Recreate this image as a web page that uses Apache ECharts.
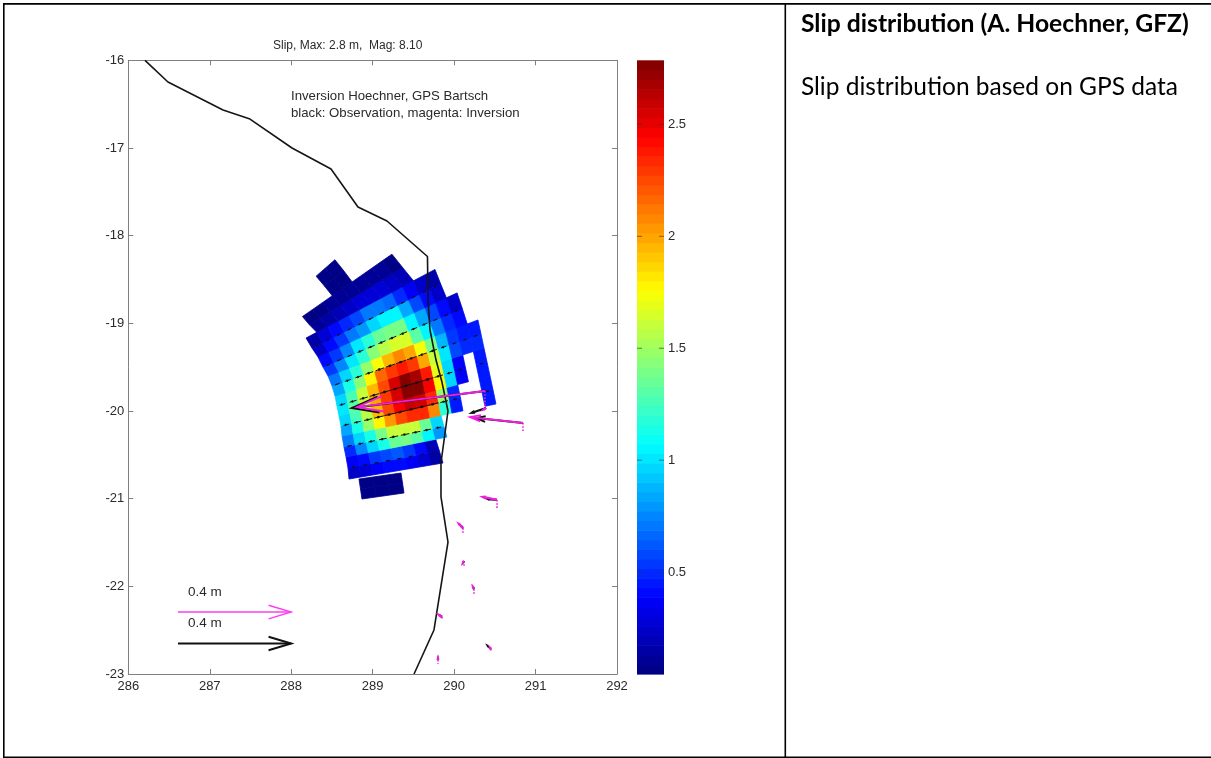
<!DOCTYPE html>
<html><head><meta charset="utf-8">
<style>html,body{margin:0;padding:0;background:#fff}#c{width:1211px;height:758px}</style>
<script src="https://cdn.jsdelivr.net/npm/echarts@6/dist/echarts.min.js"></script>
</head><body><div id="c"></div>
<script>
// Fault mesh: row boundary lines in lon/lat, left end (column 0) and right end (column 14)
const meshLon0 = [288.869,288.851,288.832,288.710,288.697,288.673,288.648,288.624,288.611,288.587,288.562,288.538,288.501,288.452,288.390,288.329,288.255,288.182,288.096,288.016,287.930,287.845];
const meshLat0 = [-21.004,-20.890,-20.776,-20.776,-20.650,-20.525,-20.411,-20.285,-20.171,-20.057,-19.943,-19.829,-19.715,-19.601,-19.498,-19.384,-19.282,-19.168,-19.088,-19.002,-18.917,-18.837];
const meshLon1 = [291.276,291.257,291.239,290.729,290.662,290.600,290.557,290.514,290.478,290.441,290.404,290.367,290.330,290.293,290.232,290.168,290.097,290.029,289.876,289.725,289.594,289.459];
const meshLat1 = [-20.685,-20.571,-20.456,-20.456,-20.314,-20.171,-20.046,-19.920,-19.761,-19.601,-19.441,-19.282,-19.122,-18.962,-18.780,-18.597,-18.426,-18.255,-18.073,-17.895,-17.708,-17.525];
// Slip rows: lower boundary line, first column, slip of each patch (m); null = no patch
const rowLine  = [0,1,3,4,5,6,7,8,9,10,11,12,13,14,15,16,17,18,19,20];
const rowStart = [0,0,0,0,0,0,0,0,0,0,0,0,0,0,0,0,1,1,4,4];
const rowSlip = [
 [.07,.07,.07],
 [.07,.07,.07],
 [.22,.3,.38,.42,.42,.38,.3,.16],
 [.35,.42,.55,.6,.62,.52,.4,.2],
 [.5,.75,.95,1.15,1.35,1.4,1.3,1.05,.8],
 [.7,.95,1.15,1.4,1.6,1.6,1.6,1.35,.95],
 [.85,1.15,1.5,1.8,2.05,2.25,2.35,2.35,2.1,1.2,.45,null,null,.45],
 [.95,1.25,1.55,1.95,2.25,2.45,2.6,2.55,2.35,1.5,.5,null,null,.45],
 [1.0,1.3,1.6,2.0,2.3,2.55,2.75,2.75,2.45,1.8,.95,.35,null,.45],
 [.95,1.25,1.6,1.95,2.25,2.55,2.78,2.7,2.4,1.7,.95,.35,null,.45],
 [.85,1.15,1.45,1.8,2.15,2.3,2.4,2.3,2.0,1.6,1.0,.6,.5,.5],
 [.7,.95,1.2,1.5,1.75,1.95,2.1,2.0,1.75,1.4,.9,.55,.45,.45],
 [.55,.75,1.0,1.2,1.45,1.55,1.65,1.65,1.3,1.05,.7,.5,.4],
 [.4,.55,.75,1.0,1.2,1.35,1.4,1.4,1.05,.85,.6,.4,.25],
 [.25,.4,.55,.7,.8,.95,1.05,1.05,.85,.6,.4,.25],
 [.15,.3,.4,.5,.6,.7,.7,.65,.5,.35,.25,.15],
 [.1,.15,.2,.25,.3,.3,.3,.25,.2],
 [.06,.08,.1,.12,.12,.12,.12,.1,.08],
 [.06,.06],
 [.06,.06]
];
// Slip vector lines drawn along these rows
const vectorRows = [3,5,7,9,11,13,15];
// Coastline
const coastLon = [286.205,286.487,287.163,287.494,288.010,288.489,288.820,289.176,289.673,289.680,289.704,289.778,289.851,289.925,289.839,289.839,289.925,289.753,289.508];
const coastLat = [-16,-16.248,-16.567,-16.670,-17.000,-17.240,-17.673,-17.833,-18.238,-18.734,-19.076,-19.419,-19.670,-20.000,-20.593,-20.981,-21.495,-22.498,-23.0];
// GPS stations: tail, observed tip, inverted tip, error bar end
const gpsLon    = [290.379,290.392,290.846,290.527,290.109,290.122,290.244,289.851,290.452,289.802];
const gpsLat    = [-19.772,-19.966,-20.137,-21.015,-21.335,-21.711,-22.031,-22.350,-22.715,-22.840];
const obsLon    = [288.746,290.220,290.269,290.416,290.085,290.116,290.238,289.830,290.415,289.802];
const obsLat    = [-19.966,-20.020,-20.080,-21.004,-21.312,-21.720,-22.018,-22.335,-22.681,-22.828];
const invLon    = [288.808,290.360,290.195,290.355,290.060,290.110,290.232,289.814,290.442,289.802];
const invLat    = [-19.955,-19.985,-20.069,-20.981,-21.289,-21.730,-22.008,-22.327,-22.702,-22.820];
const errLat    = [-19.966,-19.975,-20.240,-21.107,-21.392,-21.780,-22.088,-22.384,-22.738,-22.885];
// Scale arrows
const scaleLon = [286.61,288.0];
const scaleLatMagenta = -22.293;
const scaleLatBlack = -22.652;
// Colour bar
const slipMin = 0.045, slipMax = 2.786, levelCount = 64;
const colorTicks = [0.5,1,1.5,2,2.5];
const xTicks = [286,287,288,289,290,291,292];
const yTicks = [-23,-22,-21,-20,-19,-18,-17,-16];

function jet(t){
  const c = v => Math.round(255*Math.max(0,Math.min(1,v)));
  const r = Math.min(4*t-1.5, -4*t+4.5), g = Math.min(4*t-0.5, -4*t+3.5), b = Math.min(4*t+0.5, -4*t+2.5);
  return 'rgb('+c(r)+','+c(g)+','+c(b)+')';
}
const slipColor = s => { const lv = Math.floor((s-slipMin)/(slipMax-slipMin)*levelCount); return jet((Math.max(0,Math.min(levelCount-1,lv))+.5)/levelCount); };
const node = (line,col) => [meshLon0[line]+(meshLon1[line]-meshLon0[line])*col/14, meshLat0[line]+(meshLat1[line]-meshLat0[line])*col/14];

const patches = [];
rowSlip.forEach((vals,r)=>vals.forEach((s,i)=>{ if(s!==null) patches.push([rowLine[r],rowStart[r]+i,s]); }));
const vectors = [];
vectorRows.forEach(r=>rowSlip[r].forEach((s,i)=>{ if(s!==null) vectors.push([rowLine[r],rowStart[r]+i,s]); }));

const renderPatch = (p,api)=>{
  const l=api.value(0), c=api.value(1), col=slipColor(api.value(2));
  const pts=[node(l,c),node(l,c+1),node(l+1,c+1),node(l+1,c)].map(q=>api.coord(q));
  return {type:'polygon',shape:{points:pts},style:{fill:col,stroke:col,lineWidth:.8}};
};
const renderVector = (p,api)=>{
  const l=api.value(0), c=api.value(1), s=api.value(2);
  const w=Math.min(1,.18+.36*s), mid=c+.5;
  const a=api.coord(node(l,mid-w/2)), b=api.coord(node(l,mid+w/2));
  const h0=api.coord(node(l,mid-.06-w*.12)), h1=api.coord(node(l,mid-.06+w*.12));
  return {type:'group',children:[
    {type:'line',shape:{x1:a[0],y1:a[1],x2:b[0],y2:b[1]},style:{stroke:'#111',lineWidth:1}},
    {type:'line',shape:{x1:h0[0],y1:h0[1],x2:h1[0],y2:h1[1]},style:{stroke:'#111',lineWidth:s>.8?2.2:1.2}}
  ]};
};
function arrowKids(tail,tip,color,width){
  const dx=tip[0]-tail[0], dy=tip[1]-tail[1];
  const bx=tail[0]+dx*.8, by=tail[1]+dy*.8, sx=-dy*.06, sy=dx*.06;
  const w=Math.hypot(dx,dy)<20?Math.max(width,2.3):width;
  return [
    {type:'line',shape:{x1:tail[0],y1:tail[1],x2:tip[0],y2:tip[1]},style:{stroke:color,lineWidth:w}},
    {type:'polyline',shape:{points:[[bx+sx,by+sy],tip,[bx-sx,by-sy]]},style:{stroke:color,lineWidth:w,fill:null}}
  ];
}
const renderArrow = (color,width)=>(p,api)=>{
  const a=api.coord([api.value(0),api.value(1)]), b=api.coord([api.value(2),api.value(3)]);
  return {type:'group',children:arrowKids(a,b,color,width)};
};
const renderErr = (p,api)=>{
  const a=api.coord([api.value(0),api.value(1)]), b=api.coord([api.value(0),api.value(2)]);
  return {type:'line',shape:{x1:a[0],y1:a[1],x2:b[0],y2:b[1]},style:{stroke:'#f01ee0',lineWidth:1.6,lineDash:[1.6,1.6]}};
};
const renderLevel = (p,api)=>{
  const i=api.value(0), step=(slipMax-slipMin)/levelCount;
  const a=api.coord([0,slipMin+i*step]), b=api.coord([1,slipMin+(i+1)*step]);
  return {type:'rect',shape:{x:a[0],y:b[1],width:b[0]-a[0],height:a[1]-b[1]+.6},style:{fill:jet((i+.5)/levelCount)}};
};
const renderTick = (p,api)=>{
  const v=api.value(0), a=api.coord([0,v]), b=api.coord([1,v]), st={stroke:'#333',lineWidth:1,opacity:.65};
  return {type:'group',children:[
    {type:'line',shape:{x1:a[0],y1:a[1],x2:a[0]+5,y2:a[1]},style:st},
    {type:'line',shape:{x1:b[0]-5,y1:b[1],x2:b[0],y2:b[1]},style:st}
  ]};
};
const levels=[]; for(let i=0;i<levelCount;i++) levels.push([i]);

const FONT='"Liberation Sans",Arial,sans-serif', TXT='#2a2a2a', AX='#808080';
const mk=(type,o)=>Object.assign({type:type,silent:true,clip:false,animation:false,xAxisIndex:0,yAxisIndex:0},o);
const station=(ax,ay)=>gpsLon.map((v,i)=>[v,gpsLat[i],ax[i],ay[i]]);

const option={
  animation:false,backgroundColor:'#fff',
  grid:[
    {left:128.3,top:60.3,width:488.7,height:613.7,show:false},
    {left:637,top:60.3,width:27,height:613.7,show:false}
  ],
  xAxis:[
    {gridIndex:0,type:'value',min:286,max:292,interval:1,position:'bottom',
     axisLine:{show:true,onZero:false,lineStyle:{color:AX,width:1}},axisTick:{inside:true,length:5,lineStyle:{color:AX}},
     axisLabel:{color:TXT,fontFamily:FONT,fontSize:13,margin:6,showMinLabel:true,showMaxLabel:true},splitLine:{show:false}},
    {gridIndex:0,type:'value',min:286,max:292,interval:1,position:'top',
     axisLine:{show:true,onZero:false,lineStyle:{color:AX,width:1}},axisTick:{inside:true,length:5,lineStyle:{color:AX}},axisLabel:{show:false},splitLine:{show:false}},
    {gridIndex:1,type:'value',min:0,max:1,show:false}
  ],
  yAxis:[
    {gridIndex:0,type:'value',min:-23,max:-16,interval:1,position:'left',
     axisLine:{show:true,onZero:false,lineStyle:{color:AX,width:1}},axisTick:{inside:true,length:5,lineStyle:{color:AX}},
     axisLabel:{color:TXT,fontFamily:FONT,fontSize:13,margin:4,showMinLabel:true,showMaxLabel:true},splitLine:{show:false}},
    {gridIndex:0,type:'value',min:-23,max:-16,interval:1,position:'right',
     axisLine:{show:true,onZero:false,lineStyle:{color:AX,width:1}},axisTick:{inside:true,length:5,lineStyle:{color:AX}},axisLabel:{show:false},splitLine:{show:false}},
    {gridIndex:1,type:'value',min:slipMin,max:slipMax,position:'right',
     axisLine:{show:false},axisTick:{show:false},
     axisLabel:{color:TXT,fontFamily:FONT,fontSize:13,margin:4,customValues:colorTicks,formatter:v=>String(v)},splitLine:{show:false}}
  ],
  series:[
    mk('custom',{name:'patches',data:patches,renderItem:renderPatch,encode:{x:[],y:[]},z:2}),
    mk('custom',{name:'vectors',data:vectors,renderItem:renderVector,encode:{x:[],y:[]},z:3}),
    mk('line',{name:'coast',data:coastLon.map((v,i)=>[v,coastLat[i]]),showSymbol:false,symbol:'none',lineStyle:{color:'#151515',width:1.6},z:4}),
    mk('custom',{name:'err',data:gpsLon.map((v,i)=>[v,gpsLat[i],errLat[i]]),renderItem:renderErr,encode:{x:[],y:[]},z:5}),
    mk('custom',{name:'obs',data:station(obsLon,obsLat),renderItem:renderArrow('#111',2),encode:{x:[],y:[]},z:6}),
    mk('custom',{name:'inv',data:station(invLon,invLat),renderItem:renderArrow('#f01ee0',1.8),encode:{x:[],y:[]},z:7}),
    mk('custom',{name:'scaleMagenta',data:[[scaleLon[0],scaleLatMagenta,scaleLon[1],scaleLatMagenta]],renderItem:renderArrow('#fb3ff0',1.4),encode:{x:[],y:[]},z:7}),
    mk('custom',{name:'scaleBlack',data:[[scaleLon[0],scaleLatBlack,scaleLon[1],scaleLatBlack]],renderItem:renderArrow('#111',2),encode:{x:[],y:[]},z:7}),
    mk('custom',{name:'colorbar',xAxisIndex:2,yAxisIndex:2,data:levels,renderItem:renderLevel,encode:{x:[],y:[]},z:2}),
    mk('custom',{name:'colorticks',xAxisIndex:2,yAxisIndex:2,data:colorTicks.map(v=>[v]),renderItem:renderTick,encode:{x:[],y:[]},z:3})
  ],
  graphic:[
    {type:'rect',shape:{x:3,y:3,width:1208,height:1.8},style:{fill:'#000'},silent:true},
    {type:'rect',shape:{x:3,y:3,width:1.6,height:755},style:{fill:'#000'},silent:true},
    {type:'rect',shape:{x:784.5,y:3,width:1.6,height:755},style:{fill:'#000'},silent:true},
    {type:'rect',shape:{x:3,y:756.5,width:1208,height:1.5},style:{fill:'#000'},silent:true},
    {type:'text',x:273,y:46,style:{text:'Slip, Max: 2.8 m,  Mag: 8.10',fill:TXT,font:'12px '+FONT,textVerticalAlign:'middle'},silent:true},
    {type:'text',x:291,y:96,style:{text:'Inversion Hoechner, GPS Bartsch',fill:TXT,font:'13.2px '+FONT,textVerticalAlign:'middle'},silent:true},
    {type:'text',x:291,y:113,style:{text:'black: Observation, magenta: Inversion',fill:TXT,font:'13.2px '+FONT,textVerticalAlign:'middle'},silent:true},
    {type:'text',x:188,y:592,style:{text:'0.4 m',fill:TXT,font:'13.5px '+FONT,textVerticalAlign:'middle'},silent:true},
    {type:'text',x:188,y:623,style:{text:'0.4 m',fill:TXT,font:'13.5px '+FONT,textVerticalAlign:'middle'},silent:true},
    {type:'text',x:801,y:24,style:{text:'Slip distribution (A. Hoechner, GFZ)',fill:'#000',font:'bold 24.7px Lato,sans-serif',textVerticalAlign:'middle'},silent:true},
    {type:'text',x:801,y:87,style:{text:'Slip distribution based on GPS data',fill:'#000',font:'24.5px Lato,sans-serif',textVerticalAlign:'middle'},silent:true}
  ]
};
echarts.init(document.getElementById('c'),null,{renderer:'canvas'}).setOption(option);
</script></body></html>
